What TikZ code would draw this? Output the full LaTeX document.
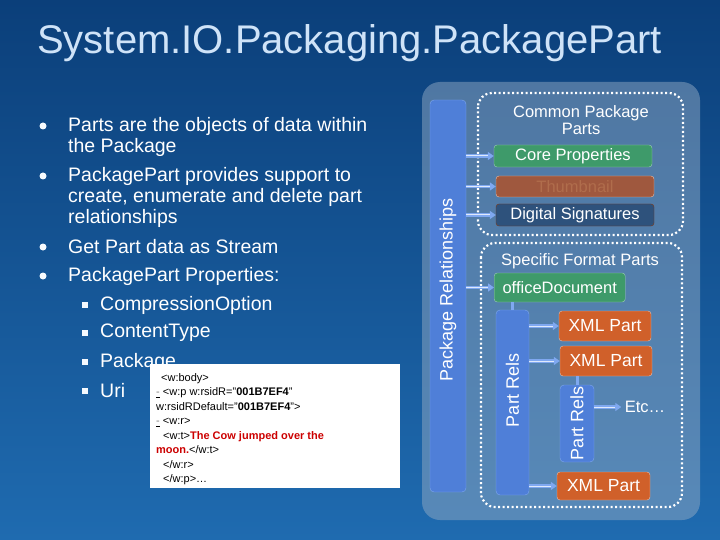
\documentclass[tikz,border=0pt]{standalone}
\usepackage{fontspec}
\setmainfont{Liberation Sans}
\usetikzlibrary{arrows.meta}
\definecolor{bgA}{HTML}{0B3F7A}\definecolor{bgB}{HTML}{1F6BB0}
\definecolor{barc}{HTML}{4F7FD8}\definecolor{grn}{HTML}{3E9A6A}\definecolor{org}{HTML}{D0602A}
\definecolor{ttl}{HTML}{CFE3F8}\definecolor{ark}{HTML}{7FA8F0}
\begin{document}
\begin{tikzpicture}[x=1pt,y=-1pt,
 bul/.style={anchor=west,text=white,font=\fontsize{19.5}{19.5}\selectfont,inner sep=0pt},
 dot/.style={circle,fill=white!85!ttl,inner sep=0pt,minimum size=7pt},
 sq/.style={fill=white!80!ttl,inner sep=0pt,minimum size=6pt},
 bar/.style={draw=ark,fill=barc,rounded corners=4pt},
 part/.style={draw=white!60!org,fill=org,rounded corners=3pt,text=white,font=\fontsize{17.5}{17.5}\selectfont},
 dots/.style={draw=white,line width=2.2pt,dash pattern=on 2pt off 2.5pt,rounded corners=14pt},
 rel/.style={draw=ark,line width=3.2pt,-{Triangle[length=6pt,width=8pt]}},
 relin/.style={draw=white!75!ark,line width=1pt,shorten >=6pt},
 lbl/.style={text=white,font=\fontsize{16.5}{16.5}\selectfont},
 vlbl/.style={text=white,font=\fontsize{18}{18}\selectfont,rotate=90}]
\useasboundingbox (0,0) rectangle (720,540);
\shade[top color=bgA,bottom color=bgB] (0,0) rectangle (720,540);
\node[anchor=west,text=ttl,font=\fontsize{40}{40}\selectfont,inner sep=0pt] (title) at (37,43) {System.IO.Packaging.PackagePart};
% bullets
\foreach \y in {126,176,247,276}{\node[dot] at (43,\y) {};}
\node[bul] (b1) at (68,126) {Parts are the objects of data within};
\node[bul] (b1b) at (68,147) {the Package};
\node[bul] (b2) at (68,176) {PackagePart provides support to};
\node[bul] (b2b) at (68,197) {create, enumerate and delete part};
\node[bul] (b2c) at (68,218) {relationships};
\node[bul] (b3) at (68,247) {Get Part data as Stream};
\node[bul] (b4) at (68,276) {PackagePart Properties:};
\foreach \y in {305,333,362,391}{\node[sq] at (85,\y) {};}
\node[bul] (s1) at (100,305) {CompressionOption};
\node[bul] (s2) at (100,333) {ContentType};
\node[bul] (s3) at (100,362) {Package};
\node[bul] (s4) at (100,391) {Uri};
% code box
\node[fill=white,anchor=north west,minimum width=250pt,minimum height=124pt] (code) at (150,364) {};
\node[anchor=north west,align=left,font=\fontsize{11}{14.5}\selectfont,inner sep=0pt] (codetxt) at (156,373) {%
\hspace*{5pt}<w:body>\\
\underline{\textcolor{gray}{-}} <w:p w:rsidR="\textbf{001B7EF4}"\\
w:rsidRDefault="\textbf{001B7EF4}">\\
\underline{\textcolor{gray}{-}} <w:r>\\
\hspace*{7pt}<w:t>\textcolor{red!80!black}{\textbf{The Cow jumped over the}}\\
\textcolor{red!80!black}{\textbf{moon.}}</w:t>\\
\hspace*{7pt}</w:r>\\
\hspace*{7pt}</w:p>\dots};
% panel
\fill[white!55!bgA,opacity=0.5,rounded corners=18pt] (422,82) rectangle (700,520);
\node[bar,minimum width=36pt,minimum height=392pt] (pr) at (448,296) {};
\node[vlbl] (prl) at (448,290) {Package Relationships};
\draw[dots] (478,93) rectangle (683,235);
\draw[dots] (481,243) rectangle (682,507);
\node[text=gray!60!white,lbl,align=center] (cpp) at (581,120) {Common Package\\Parts};
\node[draw=white!50!grn,fill=grn,rounded corners=3pt,minimum width=158pt,minimum height=22pt,text=grn!75!gray,lbl] (core) at (573,156) {Core Properties};
\node[part,fill=org!75!bgA,minimum width=158pt,minimum height=21pt,text=org!60!gray,font=\fontsize{16.5}{16.5}\selectfont] (thumb) at (575,186.5) {Thumbnail};
\node[draw=org!60!black,fill=bgA!70!gray,rounded corners=3pt,minimum width=158pt,minimum height=22pt,text=gray!85!white,lbl] (dig) at (575,215) {Digital Signatures};
\node[lbl] (sfp) at (580,261) {Specific Format Parts};
\node[draw=white!50!grn,fill=grn,rounded corners=3pt,minimum width=131pt,minimum height=29pt,text=white,lbl,anchor=west,inner sep=1pt] (od) at (494,287.5) {officeDocument};
\node[bar,minimum width=33pt,minimum height=185pt] (prb) at (512.5,402.5) {};
\node[vlbl] at (512.5,390) {Part Rels};
\node[part,minimum width=92pt,minimum height=30pt] (x1) at (605,326) {XML Part};
\node[part,minimum width=92pt,minimum height=30pt] (x2) at (606,361) {XML Part};
\node[bar,minimum width=34pt,minimum height=77pt] (prc) at (577,423.5) {};
\node[vlbl] at (577,423) {Part Rels};
\node[lbl] (etc) at (645,407) {Etc\dots};
\node[part,minimum width=93pt,minimum height=28pt] (x3) at (603.5,486) {XML Part};
% connectors
\draw[ark,line width=3pt] (od.south -| prb) -- (prb.north);
\draw[ark,line width=3pt] (x2.south -| prc) -- (prc.north);
\foreach \a/\b in {pr/core,pr/thumb,pr/dig,pr/od,prb/x1,prb/x2,prb/x3,prc/etc}{
 \draw[rel] (\a.east |- \b) -- (\b.west);
 \draw[relin] (\a.east |- \b) -- (\b.west);}
\end{tikzpicture}
\end{document}
